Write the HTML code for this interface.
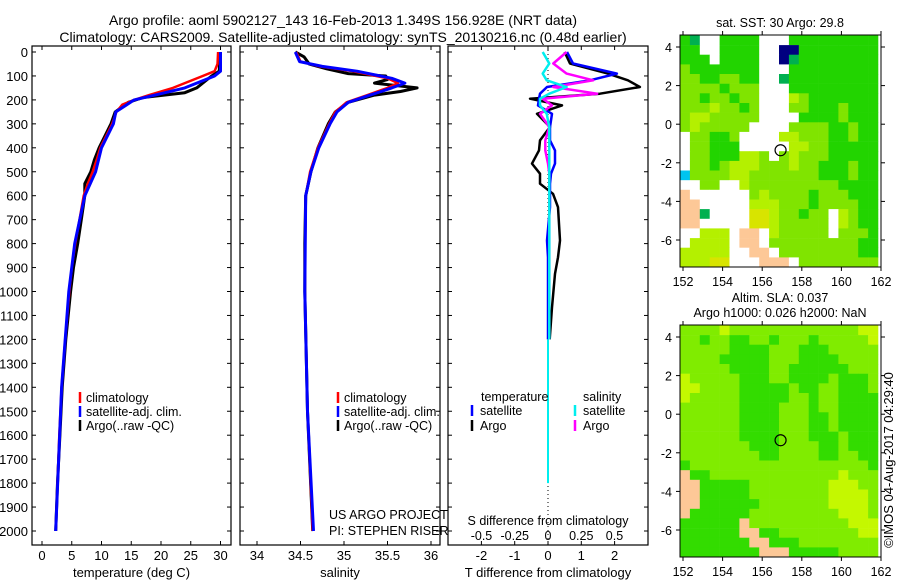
<!DOCTYPE html>
<html><head><meta charset="utf-8"><style>
body{margin:0;background:#fff;}
svg{display:block;font-family:"Liberation Sans",sans-serif;}
text{fill:#000;}
</style></head><body>
<svg id="fig" width="900" height="580" viewBox="0 0 900 580">
<text x="343" y="25" font-size="14" text-anchor="middle">Argo profile: aoml 5902127_143 16-Feb-2013 1.349S 156.928E (NRT data)</text>
<text x="343" y="42" font-size="14" text-anchor="middle">Climatology: CARS2009. Satellite-adjusted climatology: synTS_20130216.nc (0.48d earlier)</text>
<g id="g1"></g>
<g id="g2"></g>
<g id="g3"></g>
<g id="m1"></g>
<g id="m2"></g>
<text transform="translate(893,460) rotate(-90)" font-size="13" text-anchor="middle">©IMOS 04-Aug-2017 04:29:40</text>
</svg>
<script>
// ---- data ----
const depthTicks=[0,100,200,300,400,500,600,700,800,900,1000,1100,1200,1300,1400,1500,1600,1700,1800,1900,2000];
const tempTicks=[0,5,10,15,20,25,30];
const salTicks=[34,34.5,35,35.5,36];
const tdiffTicks=[-2,-1,0,1,2];
const sdiffTicks=[-0.5,-0.25,0,0.25,0.5];
const sdiffLabels=["-0.5","-0.25","0","0.25","0.5"];
const climTD=[0,50,80,100,150,180,200,220,250,300,350,400,450,500,550,600,700,800,900,1000,1200,1400,1600,1800,2000];
const climT=[29.6,29.5,29,27,22,18,15.5,13.5,12.5,11.8,10.8,9.8,9.2,8.5,7.7,7,6.3,5.6,5,4.6,3.9,3.3,2.9,2.6,2.3];
const argoTD=[0,80,100,150,170,190,210,250,300,400,450,500,550,600,700,800,900,1000,1200,1400,1600,1800,2000];
const argoT=[29.9,29.8,28.5,26,24,17,14.5,12.3,11.6,9.6,8.8,8.2,7.2,7.2,6.6,6,5.3,4.8,4,3.4,3,2.6,2.3];
const satTD=[0,80,100,150,180,200,250,300,400,500,600,800,1000,1400,2000];
const satT=[30,30,29,24,19,15.5,12.4,12,10,9,7.2,5.5,4.5,3.3,2.3];
const argoSD=[0,20,50,70,90,100,115,130,150,165,180,210,250,300,400,500,600,800,1000,1500,2000];
const argoS=[34.44,34.54,34.6,34.8,35.05,35.48,35.5,35.35,35.84,35.65,35.35,35.05,34.9,34.82,34.7,34.62,34.56,34.55,34.55,34.58,34.64];
const satSD=[0,40,60,80,110,130,150,180,210,250,300,400,500,600,1000,1500,2000];
const satS=[34.44,34.49,34.75,35.15,35.55,35.7,35.55,35.3,35.05,34.92,34.84,34.71,34.62,34.56,34.55,34.58,34.65];
const climS=[34.45,34.5,34.72,35.1,35.5,35.62,35.5,35.27,35.03,34.9,34.83,34.7,34.61,34.56,34.55,34.58,34.64];
const difD=[0,48,90,118,146,174,195,223,258,313,369,411,466,508,550,592,648,787,857,926,1066,1200];
const argoTdif=[0.5,0.66,1.8,2.4,2.76,1.56,-0.54,0.42,-0.33,0.06,-0.24,-0.27,-0.48,-0.24,-0.24,0.15,0.3,0.36,0.3,0.21,0.12,0.05];
const satTdif=[0.57,0.75,2.07,1.26,-0.03,-0.24,-0.27,-0.3,0.12,0.06,0.06,0.21,0.21,0.09,0.06,0.06,0.06,-0.03,0,0,0,0];
const argoSdif=[0.14,0.04,0.14,0.34,0.04,0.37,-0.04,0.03,-0.06,0.01,-0.02,-0.02,0,0.01,0.01,0.01,0.01,0.01,0.01,0.01,0.01,0.01];
const satSdif=[-0.04,0.01,-0.04,-0.01,0.14,0.01,-0.06,-0.06,-0.01,0.01,0.01,0.01,0.01,0.01,0.01,0.01,0.01,0.01,0.01,0.01,0.01,0.01];
const deepD=[1200,1500,1800];
const deepT=[0,0,0];
const mapLatTicks=[4,2,0,-2,-4,-6];
const mapLonTicks=[152,154,156,158,160,162];
const argoLon=156.928, argoLat=-1.349;
const sstGrid=["GTWWGGGGWWWGGGGGGGGG","GGWWGGGGWWDDGGGGGGGG","GGGWGGGGWWDTGGGGGGGG","LGGGGGGGWWWGGGGGGGGG","LLGGLLGGWWTGGGGGGGGG","LLLLGLLLWWWGGGGGGGGG","LLGLLGLLWWWYLGGGGGGG","LLLYLLGLWWWLLGGGLGGG","LYYLLLLLWWWWGGGGLGGG","LYLLLLLWWWWLLLLGGLGG","WLLGGLWWWWYYLLLGGLGG","WLLGGGWWWWWYYLLGGGGG","WLLGGGYYLWLYLLLGGGGG","WLLGLYYYLLLYLLGGGLGG","CLLLLYYLLLLLLLGGGLGG","WWLLWWYLLLLLLLLLGGGG","SWWWWWWLYLLLLGLLLGGG","SSWWWWWYYYLLLGLLLLGG","SSTWWWWyyYLLGLLWYLGG","SSWWWWWyyYLLLLLWYLGG","WWYYYWSSWYLLLLLWLLLG","WYYYYWSSWLLLLLLLLLGG","YYYYYWWSSWLLLLLLLLGG","YYYyyWWWSSSWLLLLLLLL"];
const slaGrid=["LLLLYLLLLLLLLLLLLLYY","LLGLLGGLLGLLLGLLLLLY","LLLLLGGGGLLLGGGLLLLL","LLLLGGGGGLLLGGGGLLLL","LLLLLGGGGLLGGGGGGLLL","YLLLLLGGGLLGGGGLGGGL","YYLLLLGGGGGLGGLLGGGL","YLLLLLGGGGGLLGLLGGGG","LLLLLLGGGGLLLGLLGGGG","LLLLLLGGGGLLLGGLGGGG","LLLLLLGGGGLLLGGLGGGG","LLLLLLGGGGLLLGGGLGGG","LLLLLLLGGGLLLLGGLGGG","LLLLLLLLGGLLLLGGLLGG","GLLLLLLLLLLLLLLLLLLG","SGGLLLLLLLLLLLLLYLLL","SSGGGGGLLLLLLLLYYYLL","SSGGGGGLLLLLLLLYYYYL","SSGGGGGGLLLLLLLYYYYL","SGGGGGGLLLLLLLLLYYYL","GGGGGGSLLLLLLLLLLYYY","GGGGGGSSGGLLLLLLLLYY","GGGGGGGSSGGGLLLLLLLL","GGGGGGGGSSSGGGGGLLLL"];

const NS="http://www.w3.org/2000/svg";
function mk(p,tag,at){const e=document.createElementNS(NS,tag);for(const k in at)e.setAttribute(k,at[k]);p.appendChild(e);return e;}
const yD=d=>52+d*0.2395;
const xT=t=>42+t*5.95;
const xS=s=>257+(s-34)*87;
const xTd=v=>548+v*33.3;
const xSd=v=>548+v*133;
function line(g,xs,ds,fx,col,w,name){
  const p=mk(g,'polyline',{points:xs.map((v,i)=>fx(v).toFixed(1)+','+yD(ds[i]).toFixed(1)).join(' '),fill:'none',stroke:col,'stroke-width':w,'stroke-linejoin':'round'});
  
  
}
function frame(g,x0,x1,xt,fx,labels,title,showY){
  const r=mk(g,'rect',{x:x0,y:46,width:x1-x0,height:499,fill:'none',stroke:'#000','stroke-width':1.2});
  
  
  depthTicks.forEach(d=>{
    mk(g,'line',{x1:x0,x2:x0+4,y1:yD(d),y2:yD(d),stroke:'#000'});
    mk(g,'line',{x1:x1-4,x2:x1,y1:yD(d),y2:yD(d),stroke:'#000'});
    if(showY){const t=mk(g,'text',{x:x0-4,y:yD(d)+5,'font-size':13,'text-anchor':'end'});t.textContent=d;
      
      }
  });
  xt.forEach((v,i)=>{
    mk(g,'line',{x1:fx(v),x2:fx(v),y1:545,y2:541,stroke:'#000'});
    mk(g,'line',{x1:fx(v),x2:fx(v),y1:46,y2:50,stroke:'#000'});
    const t=mk(g,'text',{x:fx(v),y:560,'font-size':13,'text-anchor':'middle'});t.textContent=labels?labels[i]:v;
    
    
  });
  const tt=mk(g,'text',{x:(x0+x1)/2,y:577,'font-size':13,'text-anchor':'middle'});tt.textContent=title;
  
  
}
function txt(g,x,y,s,name,anchor){const t=mk(g,'text',{x:x,y:y,'font-size':12.5,'text-anchor':anchor||'start'});t.textContent=s;
  
  return t;}
function leg(g,x,y,col){mk(g,'line',{x1:x,x2:x,y1:y-10,y2:y+1,stroke:col,'stroke-width':2.5});}

// Panel 1
const g1=document.getElementById('g1');
frame(g1,32,231,tempTicks,xT,null,'temperature (deg C)',true);
line(g1,argoT,argoTD,xT,'#000',3,'argo-temperature-line');
line(g1,climT,climTD,xT,'#f00',2.5,'climatology-temperature-line');
line(g1,satT,satTD,xT,'#00f',3,'satellite-temperature-line');
[["climatology",'#f00'],["satellite-adj. clim.",'#00f'],["Argo(..raw -QC)",'#000']].forEach((l,i)=>{leg(g1,80,402+i*14,l[1]);txt(g1,86,402+i*14,l[0],'legend-entry');});

// Panel 2
const g2=document.getElementById('g2');
frame(g2,240,440,salTicks,xS,null,'salinity',false);
line(g2,argoS,argoSD,xS,'#000',3,'argo-salinity-line');
line(g2,climS,satSD,xS,'#f00',2.5,'climatology-salinity-line');
line(g2,satS,satSD,xS,'#00f',3,'satellite-salinity-line');
[["climatology",'#f00'],["satellite-adj. clim.",'#00f'],["Argo(..raw -QC)",'#000']].forEach((l,i)=>{leg(g2,338,402+i*14,l[1]);txt(g2,344,402+i*14,l[0],'legend-entry');});
txt(g2,329,519,'US ARGO PROJECT','project-note');
txt(g2,329,535,'PI: STEPHEN RISER','pi-note');

// Panel 3
const g3=document.getElementById('g3');
frame(g3,448,648,tdiffTicks,xTd,null,'T difference from climatology',false);
sdiffTicks.forEach((v,i)=>{const t=txt(g3,xSd(v),540,sdiffLabels[i],'s-diff-tick-label','middle');});
txt(g3,548,525,'S difference from climatology','s-diff-axis-title','middle');
mk(g3,'line',{x1:548,x2:548,y1:46,y2:545,stroke:'#000','stroke-dasharray':'1,3'});
line(g3,argoTdif,difD,xTd,'#000',2.5,'argo-tdiff-line');
line(g3,satTdif,difD,xTd,'#00f',2.5,'satellite-tdiff-line');
line(g3,argoSdif,difD,xSd,'#f0f',2.5,'argo-sdiff-line');
line(g3,satSdif,difD,xSd,'#0ee',2.5,'satellite-sdiff-line');
line(g3,deepT,deepD,xSd,'#0ee',2,'deep-sdiff-line');
txt(g3,481,401,'temperature','legend-temperature-header');
txt(g3,583,401,'salinity','legend-salinity-header');
leg(g3,472,415,'#00f');txt(g3,480,415,'satellite','legend-entry');
leg(g3,472,430,'#000');txt(g3,480,430,'Argo','legend-entry');
leg(g3,575,415,'#0ee');txt(g3,583,415,'satellite','legend-entry');
leg(g3,575,430,'#f0f');txt(g3,583,430,'Argo','legend-entry');

// Maps
const sstCol={G:'#22d400',L:'#80e400',Y:'#b4f000',y:'#d8e400',T:'#00b050',D:'#000080',C:'#00c4f0',S:'#fdc897',W:'#ffffff'};
const slaCol={G:'#33dc00',L:'#80ec00',Y:'#c4f800',S:'#fdc897'};
function map(id,top,grid,cols,title){
  const g=document.getElementById(id);
  const xL=lon=>683+(lon-152)*19.8;
  const yL=lat=>top+12+(4-lat)*19.3;
  const cw=9.9,ch=(yL(-7.4)-yL(4.6))/grid.length;
  grid.forEach((row,r)=>{[...row].forEach((c,k)=>{
    const e=mk(g,'rect',{x:(xL(152)-3+k*cw).toFixed(1),y:(yL(4.6)+r*ch).toFixed(1),width:cw+0.3,height:ch+0.3,fill:cols[c]});
    
    
  });});
  const f=mk(g,'rect',{x:680,y:top,width:201,height:232,fill:'none',stroke:'#000'});
  
  
  mapLatTicks.forEach(v=>{mk(g,'line',{x1:680,x2:676,y1:yL(v),y2:yL(v),stroke:'#000'});mk(g,'line',{x1:881,x2:885,y1:yL(v),y2:yL(v),stroke:'#000'});
    txt(g,672,yL(v)+5,String(v),'map-lat-label','end');});
  mapLonTicks.forEach(v=>{mk(g,'line',{x1:xL(v),x2:xL(v),y1:top,y2:top-4,stroke:'#000'});mk(g,'line',{x1:xL(v),x2:xL(v),y1:top+232,y2:top+236,stroke:'#000'});
    txt(g,xL(v),top+251,String(v),'map-lon-label','middle');});
  const c=mk(g,'circle',{cx:xL(argoLon),cy:yL(argoLat),r:5.5,fill:'none',stroke:'#000','stroke-width':1.2});
  
  
  title.forEach((t,i)=>txt(g,780,top-(title.length-1-i)*15-8,t,'map-title','middle'));
}
map('m1',35,sstGrid,sstCol,['sat. SST: 30 Argo: 29.8']);
map('m2',325,slaGrid,slaCol,['Altim. SLA: 0.037','Argo h1000: 0.026 h2000: NaN']);
</script>
</body></html>
